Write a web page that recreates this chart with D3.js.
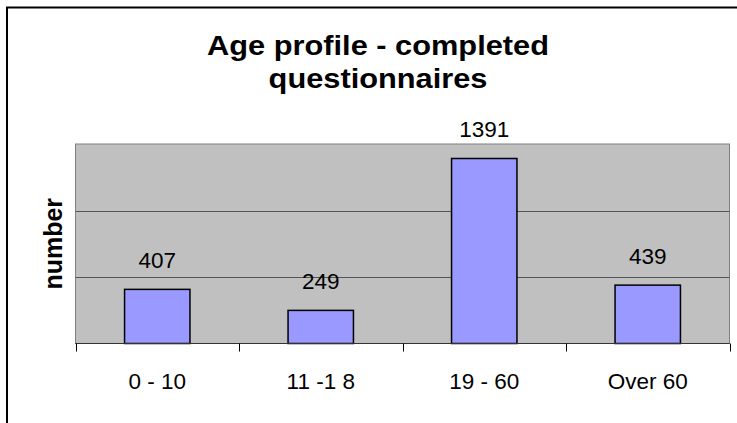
<!DOCTYPE html>
<html>
<head>
<meta charset="utf-8">
<script src="https://cdn.jsdelivr.net/npm/d3@7"></script>
<style>
  html, body { margin: 0; padding: 0; background: #ffffff; }
  svg { display: block; }
</style>
</head>
<body>
<script>
// ---- data ----
const categories = ["0 - 10", "11 -1 8", "19 - 60", "Over 60"];
const values = [407, 249, 1391, 439];
const yTicks = [0, 500, 1000, 1500];
const titleLines = ["Age profile - completed", "questionnaires"];
const yLabel = "number";

// ---- layout ----
const W = 737, H = 423;
const plot = { left: 75.5, right: 729.5, top: 144, bottom: 343.5 };

const svg = d3.select("body").append("svg").attr("width", W).attr("height", H);
svg.append("rect").attr("width", W).attr("height", H).attr("fill", "#ffffff");

// outer chart border (extends beyond the picture on right/bottom)
svg.append("rect")
  .attr("x", 7).attr("y", 7.5).attr("width", 760).attr("height", 440)
  .attr("fill", "none").attr("stroke", "#000").attr("stroke-width", 2);

const x = d3.scaleBand().domain(categories).range([plot.left, plot.right]).padding(0);
const y = d3.scaleLinear().domain([0, 1500]).range([plot.bottom, plot.top]);

// plot area
svg.append("rect")
  .attr("x", plot.left).attr("y", plot.top)
  .attr("width", plot.right - plot.left).attr("height", plot.bottom - plot.top)
  .attr("fill", "#c0c0c0").attr("stroke", "#808080").attr("stroke-width", 1);

// gridlines
svg.append("g").selectAll("line")
  .data(yTicks.filter(t => t > 0 && t < 1500))
  .join("line")
  .attr("x1", plot.left).attr("x2", plot.right)
  .attr("y1", d => Math.round(y(d)) + 0.5).attr("y2", d => Math.round(y(d)) + 0.5)
  .attr("stroke", "#555555").attr("stroke-width", 1);

// bars
const bw = x.bandwidth() * 0.4;
svg.append("g").selectAll("rect")
  .data(values)
  .join("rect")
  .attr("x", (d, i) => x(categories[i]) + x.bandwidth() / 2 - bw / 2)
  .attr("y", d => y(d))
  .attr("width", bw)
  .attr("height", d => y(0) - y(d))
  .attr("fill", "#9999ff")
  .attr("stroke", "#000").attr("stroke-width", 1.5);

// x axis line and ticks at band edges
svg.append("line")
  .attr("x1", plot.left).attr("x2", plot.right)
  .attr("y1", plot.bottom).attr("y2", plot.bottom)
  .attr("stroke", "#333").attr("stroke-width", 1);
const edges = categories.map(c => x(c)).concat([plot.right]);
svg.append("g").selectAll("line")
  .data(edges)
  .join("line")
  .attr("x1", d => Math.round(d) + 0.5).attr("x2", d => Math.round(d) + 0.5)
  .attr("y1", plot.bottom).attr("y2", plot.bottom + 8)
  .attr("stroke", "#000").attr("stroke-width", 1);

// category labels
svg.append("g").selectAll("text")
  .data(categories)
  .join("text")
  .attr("x", d => x(d) + x.bandwidth() / 2)
  .attr("y", 389)
  .attr("text-anchor", "middle")
  .attr("font-family", "Liberation Sans, Arial, sans-serif")
  .attr("font-size", 22.5)
  .attr("fill", "#000")
  .text(d => d);

// data labels
svg.append("g").selectAll("text")
  .data(values)
  .join("text")
  .attr("x", (d, i) => x(categories[i]) + x.bandwidth() / 2)
  .attr("y", d => y(d) - 21)
  .attr("text-anchor", "middle")
  .attr("font-family", "Liberation Sans, Arial, sans-serif")
  .attr("font-size", 22.5)
  .attr("fill", "#000")
  .text(d => d);

// title
const title = svg.append("g");
titleLines.forEach((t, i) => {
  title.append("text")
    .attr("transform", `translate(378,${55 + i * 33}) scale(1.14,1)`)
    .attr("text-anchor", "middle")
    .attr("font-family", "Liberation Sans, Arial, sans-serif")
    .attr("font-weight", "bold")
    .attr("font-size", 27)
    .attr("fill", "#000")
    .text(t);
});

// y label
svg.append("text")
  .attr("transform", `translate(61.5,${(plot.top + plot.bottom) / 2}) rotate(-90)`)
  .attr("text-anchor", "middle")
  .attr("font-family", "Liberation Sans, Arial, sans-serif")
  .attr("font-weight", "bold")
  .attr("font-size", 25)
  .attr("fill", "#000")
  .text(yLabel);
</script>
</body>
</html>
